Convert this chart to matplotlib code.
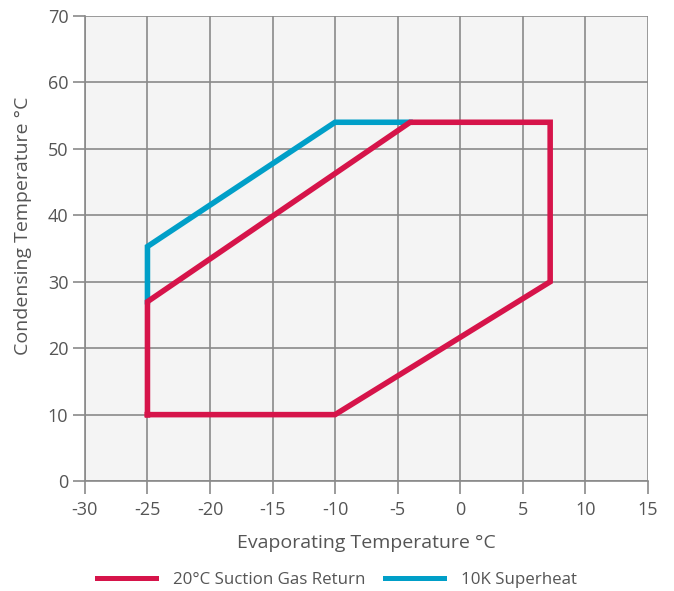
import matplotlib
matplotlib.use("Agg")
import matplotlib.pyplot as plt
from matplotlib.lines import Line2D

# Data
red_label = "20°C Suction Gas Return"
red_x = [-25, -25, -4, 7.2, 7.2, -10, -25]
red_y = [10, 27, 54, 54, 30, 10, 10]

blue_label = "10K Superheat"
blue_x = [-25, -25, -10, -4]
blue_y = [27, 35.3, 54, 54]

x_ticks = [-30, -25, -20, -15, -10, -5, 0, 5, 10, 15]
y_ticks = [0, 10, 20, 30, 40, 50, 60, 70]

plt.rcParams['font.family'] = ['Open Sans', 'DejaVu Sans']
plt.rcParams['axes.unicode_minus'] = False
text_color = '#555555'
grid_color = '#8a8a8a'
red_c = '#d6144a'
blue_c = '#009fc8'

fig = plt.figure(figsize=(6.74, 5.91), dpi=100)
ax = fig.add_axes([0.126, 0.186, 0.835, 0.787])
ax.set_facecolor('#f4f4f4')

ax.plot(blue_x, blue_y, color=blue_c, lw=4, solid_joinstyle='miter', label=blue_label, zorder=3)
ax.plot(red_x, red_y, color=red_c, lw=4, solid_joinstyle='miter', label=red_label, zorder=4)

ax.set_xlim(-30, 15)
ax.set_ylim(0, 70)
ax.set_xticks(x_ticks)
ax.set_yticks(y_ticks)
ax.grid(True, color=grid_color, lw=1.2)
ax.set_axisbelow(True)
for s in ['top', 'right']:
    ax.spines[s].set_visible(False)
for s in ['left', 'bottom']:
    ax.spines[s].set_color(grid_color)
    ax.spines[s].set_linewidth(1.2)
ax.tick_params(axis='both', colors=grid_color, labelcolor=text_color, labelsize=13, length=9, width=1.2)
ax.tick_params(axis='x', pad=5)
ax.tick_params(axis='y', pad=3)
ax.set_xlabel("Evaporating Temperature °C", color=text_color, fontsize=14, labelpad=11)
ax.set_ylabel("Condensing Temperature °C", color=text_color, fontsize=14)
ax.yaxis.set_label_coords(-0.094, 0.548)

handles = [Line2D([], [], color=red_c, lw=3.6), Line2D([], [], color=blue_c, lw=3.6)]
fig.legend(handles, [red_label, blue_label], loc='lower center',
           bbox_to_anchor=(0.5, -0.02), ncol=2, frameon=False, fontsize=12.2,
           labelcolor=text_color, handlelength=3.5, handletextpad=1.0, columnspacing=1.15)

fig.savefig("out.png", dpi=100)
